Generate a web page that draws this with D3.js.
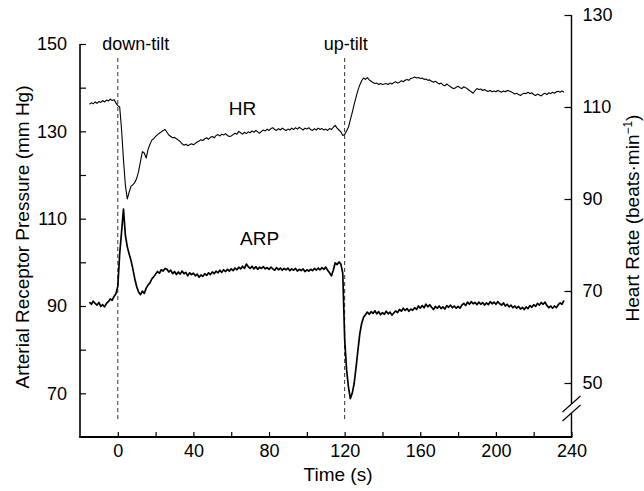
<!DOCTYPE html>
<html>
<head>
<meta charset="utf-8">
<script src="https://cdn.jsdelivr.net/npm/d3@7"></script>
<style>
  body { margin: 0; background: #fff; }
  svg { display: block; font-family: "Liberation Sans", Arial, Helvetica, sans-serif; }
</style>
</head>
<body>
<svg id="chart" width="644" height="491"></svg>
<script>
// samples every 1 s, first sample at t = -15 s
const sampleStart = -15;

// heart rate, beats/min (right axis)
const hrValues = [
  110.6, 110.9, 110.7, 111.1, 110.8, 111.2, 111.0, 111.4, 111.1, 111.5,
  111.3, 111.7, 111.4, 111.6, 110.9,
  110.3, 110.0, 105.0, 98.5, 93.0, 90.0, 91.5, 92.8, 93.1, 93.6,
  94.5, 96.0, 98.2, 100.3, 100.0, 98.9, 100.8, 101.9, 102.8, 103.1,
  103.6, 104.0, 104.3, 104.6, 104.9, 105.1, 104.5, 103.9, 103.6, 103.3,
  103.4, 103.1, 102.8, 102.5, 102.0, 101.7, 101.9, 101.6, 101.8, 102.0,
  101.8, 102.1, 102.4, 102.6, 102.9, 102.7, 103.1, 103.3, 103.0, 103.4,
  103.6, 103.3, 103.8, 104.0, 103.7, 104.1, 103.9, 104.2, 103.8, 103.6,
  103.7, 104.0, 104.3, 104.1, 104.7, 104.4, 104.1, 104.5, 104.2, 104.6,
  104.4, 104.8, 104.5, 104.9, 104.6, 104.3, 104.7, 105.0, 104.8, 105.2,
  104.9, 105.3, 105.5, 105.1, 104.9, 105.3, 105.0, 105.4, 105.1, 104.9,
  105.2, 105.0, 105.4, 105.1, 105.5, 105.2, 105.6, 105.3, 105.0, 105.4,
  105.2, 105.5, 105.1, 104.9, 105.3, 105.0, 105.4, 105.1, 105.3, 105.0,
  105.2, 104.9, 105.3, 105.1, 105.6, 106.0, 105.4, 105.0, 104.6, 103.8,
  104.0, 104.8, 105.6, 107.2, 108.8, 110.5, 112.1, 113.6, 114.8, 115.7,
  116.3, 116.0, 116.4, 115.9, 115.6, 115.3, 115.1, 115.2, 114.9, 115.1,
  114.9, 115.0, 115.1, 114.9, 115.2, 115.0, 115.3, 115.5, 115.2, 115.4,
  115.7, 115.5, 115.8, 116.0, 115.8, 116.2, 116.3, 116.5, 116.3, 116.4,
  116.2, 116.3, 116.0, 116.1, 115.8, 115.9, 115.6, 115.4, 115.6, 115.3,
  115.0, 115.2, 114.8, 114.6, 115.0, 114.7, 114.4, 114.1, 114.0, 114.3,
  114.5, 114.2, 114.0, 114.4, 114.2, 113.9, 113.6, 113.3, 113.0, 113.6,
  114.0, 113.8, 113.9, 113.6, 113.8, 113.5, 113.4, 113.6, 113.3, 113.5,
  113.3, 113.6, 113.4, 113.2, 113.5, 113.3, 113.6, 113.5, 113.3, 113.1,
  112.8, 113.0, 112.7, 112.5, 112.8, 113.0, 112.9, 113.2, 112.9, 113.1,
  112.7, 112.5, 112.8, 112.6, 112.4, 112.8, 113.0, 112.7, 113.1, 112.9,
  113.2, 113.0, 113.3, 113.4, 113.2, 113.5, 113.2
];

// arterial receptor pressure, mm Hg (left axis)
const arpValues = [
  90.9, 90.4, 91.1, 90.6, 90.2, 90.8, 89.9, 90.3, 89.8, 90.6,
  91.0, 91.6, 91.3, 92.2, 92.8,
  94.5, 102.0, 107.0, 112.2, 106.2, 103.6, 101.9, 100.4, 98.4, 96.2,
  94.4, 93.2, 92.6, 93.4, 92.9, 94.1, 94.8, 95.3, 96.2, 96.7,
  97.3, 97.9, 97.5, 98.3, 98.0, 98.6, 98.4, 97.8, 98.2, 97.4,
  97.9, 97.2, 97.8, 97.3, 98.0, 97.4, 97.7, 96.9, 97.6, 97.2,
  97.5, 96.9, 97.3, 96.6, 97.1, 96.8, 97.4, 97.0, 97.6, 97.2,
  97.8, 97.4, 98.0, 97.6, 98.2, 97.7, 98.3, 97.9, 98.4, 98.0,
  98.5, 98.1, 98.7, 98.3, 98.9, 98.5, 99.1, 98.6, 99.6, 99.0,
  98.6, 99.1, 98.5, 99.0, 98.4, 98.9, 98.6, 99.0, 98.5, 98.8,
  98.4, 98.9, 98.5, 98.2, 98.8, 98.3, 98.7, 98.2, 98.6, 98.3,
  98.7, 98.1, 98.5, 98.2, 98.6, 98.0, 98.4, 98.1, 98.5, 97.9,
  98.3, 98.0, 98.4, 98.1, 98.6, 98.2, 98.7, 98.3, 98.8, 98.4,
  98.9, 98.2, 97.6, 96.9, 98.2, 99.9, 99.5, 100.1, 99.6, 97.5,
  82.5, 75.5, 71.5, 68.8, 70.0, 72.2, 75.8, 79.8, 83.6, 86.0,
  87.4, 88.0, 88.6, 88.1, 88.7, 88.3, 88.9, 88.2, 88.7, 88.0,
  88.5, 88.1, 88.8, 88.2, 88.6, 87.9, 88.4, 88.9, 88.5, 89.2,
  88.8, 89.5, 89.0, 89.4, 88.8, 89.3, 89.0, 89.6, 89.2, 90.0,
  89.5, 90.1, 89.6, 90.4, 89.8, 90.3, 89.7, 89.2, 89.9, 89.5,
  90.0, 89.4, 89.8, 89.3, 90.1, 89.7, 90.2, 89.6, 90.0, 89.5,
  89.9, 89.5, 90.2, 90.6, 90.1, 90.9, 90.4, 91.0, 90.5, 90.8,
  90.3, 90.9, 90.4, 90.8, 90.2, 90.7, 90.3, 91.0, 90.5, 90.9,
  90.4, 91.0, 90.5, 90.2, 90.7, 90.0, 90.4, 89.8, 90.2, 89.6,
  90.0, 89.5, 89.9, 89.3, 89.7, 89.2, 89.8, 89.4, 90.1, 89.7,
  90.3, 89.9, 90.6, 90.2, 90.8, 90.4, 90.9, 90.1, 89.6, 90.0,
  89.5, 90.0, 89.6, 90.3, 90.7, 90.4, 91.3
];

const timeTicks = [0, 20, 40, 60, 80, 100, 120, 140, 160, 180, 200, 220, 240];
const timeLabels = [0, 40, 80, 120, 160, 200, 240];
const arpTicks = [70, 80, 90, 100, 110, 120, 130, 140, 150];
const arpLabels = [70, 90, 110, 130, 150];
const hrTicks = [50, 70, 90, 110, 130];

const events = [
  { t: 0, label: 'down-tilt' },
  { t: 120, label: 'up-tilt' }
];
const seriesLabels = [
  { text: 'HR', t: 66, v: 108.3, axis: 'right' },
  { text: 'ARP', t: 75, v: 104, axis: 'left' }
];

const svg = d3.select('#chart');

// scales (frame: x 80..571.5, y 44..437)
const x = d3.scaleLinear().domain([-20, 240]).range([80, 571.5]);
const yL = d3.scaleLinear().domain([60, 150]).range([437, 44]);
const yR = d3.scaleLinear().domain([38.26, 130]).range([437, 15]);

const toPoints = vals => vals.map((v, i) => ({ t: sampleStart + i, v }));

// event lines
svg.append('g')
  .selectAll('line')
  .data(events)
  .join('line')
  .attr('x1', d => x(d.t)).attr('x2', d => x(d.t))
  .attr('y1', 58).attr('y2', 421)
  .attr('stroke', '#333')
  .attr('stroke-width', 1)
  .attr('stroke-dasharray', '4,3');

svg.append('g')
  .selectAll('text')
  .data(events)
  .join('text')
  .attr('x', (d, i) => x(d.t) + (i === 0 ? 18 : 1))
  .attr('y', 50)
  .attr('text-anchor', 'middle')
  .attr('font-size', 18)
  .text(d => d.label);

// traces
svg.append('path')
  .datum(toPoints(hrValues))
  .attr('fill', 'none')
  .attr('stroke', '#000')
  .attr('stroke-width', 1.1)
  .attr('stroke-linejoin', 'round')
  .attr('d', d3.line().x(d => x(d.t)).y(d => yR(d.v)));

svg.append('path')
  .datum(toPoints(arpValues))
  .attr('fill', 'none')
  .attr('stroke', '#000')
  .attr('stroke-width', 1.7)
  .attr('stroke-linejoin', 'round')
  .attr('d', d3.line().x(d => x(d.t)).y(d => yL(d.v)));

svg.append('g')
  .selectAll('text')
  .data(seriesLabels)
  .join('text')
  .attr('x', d => x(d.t))
  .attr('y', d => (d.axis === 'right' ? yR(d.v) : yL(d.v)))
  .attr('text-anchor', 'middle')
  .attr('font-size', 19)
  .text(d => d.text);

// axes
const bottomAxis = svg.append('g')
  .attr('transform', 'translate(0,437)')
  .call(d3.axisBottom(x)
    .tickValues(timeTicks)
    .tickSizeInner(-5)
    .tickSizeOuter(0)
    .tickPadding(7)
    .tickFormat(d => (timeLabels.includes(d) ? d : '')));

const leftAxis = svg.append('g')
  .attr('transform', 'translate(80,0)')
  .call(d3.axisLeft(yL)
    .tickValues(arpTicks)
    .tickSizeInner(-6)
    .tickSizeOuter(0)
    .tickPadding(13)
    .tickFormat(d => (arpLabels.includes(d) ? d : '')));

const rightAxis = svg.append('g')
  .attr('transform', 'translate(571.5,0)')
  .call(d3.axisRight(yR)
    .tickValues(hrTicks)
    .tickSizeInner(-7)
    .tickSizeOuter(0)
    .tickPadding(11));

[bottomAxis, leftAxis, rightAxis].forEach(a => {
  a.select('.domain').remove();
  a.selectAll('line').attr('stroke', '#000').attr('stroke-width', 1.2);
  a.selectAll('text')
    .attr('fill', '#000')
    .attr('font-size', 18)
    .attr('font-family', '"Liberation Sans", Arial, sans-serif');
});

// frame lines
const frame = svg.append('g').attr('stroke', '#000').attr('fill', 'none');
frame.append('line').attr('x1', 80).attr('x2', 80).attr('y1', 44).attr('y2', 437).attr('stroke-width', 1.6);
frame.append('line').attr('x1', 79.2).attr('x2', 572.3).attr('y1', 437).attr('y2', 437).attr('stroke-width', 2);
frame.append('line').attr('x1', 571.5).attr('x2', 571.5).attr('y1', 15).attr('y2', 404).attr('stroke-width', 1.4);
frame.append('line').attr('x1', 571.5).attr('x2', 571.5).attr('y1', 413).attr('y2', 437).attr('stroke-width', 1.4);

// axis break marks
frame.selectAll('.brk')
  .data([404, 413])
  .join('line')
  .attr('x1', 571.5 - 9).attr('y1', d => d + 8)
  .attr('x2', 571.5 + 9).attr('y2', d => d - 8)
  .attr('stroke-width', 1.1);

// axis titles
svg.append('text')
  .attr('x', 338).attr('y', 481)
  .attr('text-anchor', 'middle')
  .attr('font-size', 19)
  .text('Time (s)');

svg.append('text')
  .attr('transform', 'translate(29,237) rotate(-90)')
  .attr('text-anchor', 'middle')
  .attr('font-size', 19)
  .text('Arterial Receptor Pressure (mm Hg)');

const hrTitle = svg.append('text')
  .attr('transform', 'translate(639,218) rotate(-90)')
  .attr('text-anchor', 'middle')
  .attr('font-size', 19);
hrTitle.append('tspan').text('Heart Rate (beats\u00b7min');
hrTitle.append('tspan').attr('font-size', 12).attr('dy', -7).text('\u22121');
hrTitle.append('tspan').attr('dy', 7).text(')');
</script>
</body>
</html>
